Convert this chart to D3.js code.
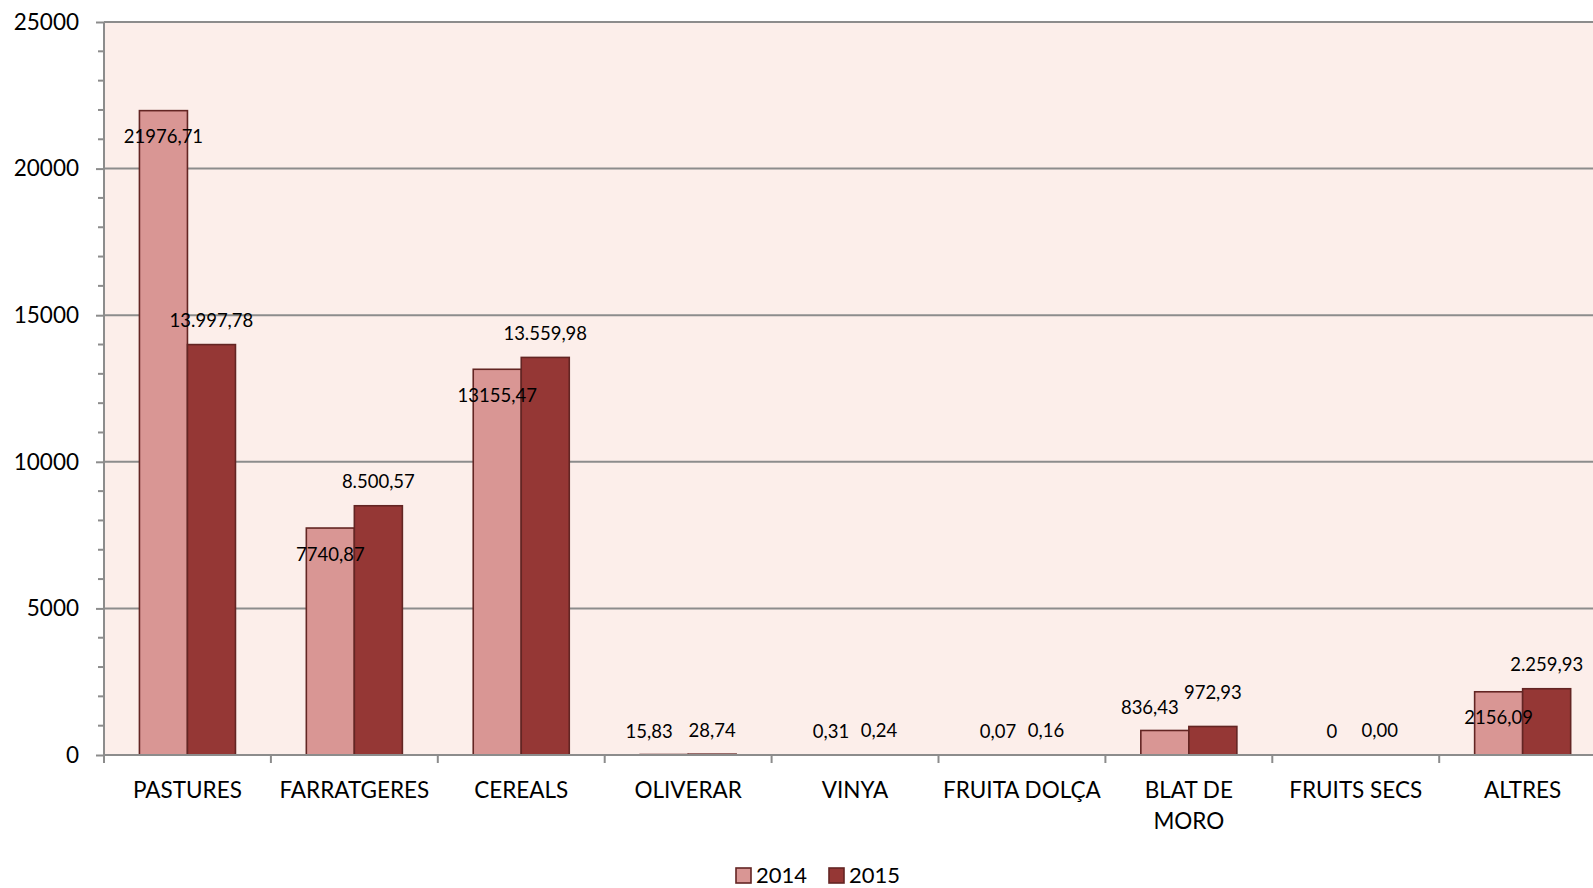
<!DOCTYPE html>
<html><head><meta charset="utf-8">
<script src="https://cdn.jsdelivr.net/npm/d3@7"></script>
<style>html,body{margin:0;padding:0;background:#fff;}svg{display:block;font-family:Lato,"Open Sans",sans-serif;}</style>
</head><body>
<svg id="chart" width="1593" height="888"></svg>
<script>
const categories = ["PASTURES","FARRATGERES","CEREALS","OLIVERAR","VINYA","FRUITA DOLÇA","BLAT DE|MORO","FRUITS SECS","ALTRES"];
const series = ["2014","2015"];
const values2014 = [21976.71, 7740.87, 13155.47, 15.83, 0.31, 0.07, 836.43, 0, 2156.09];
const values2015 = [13997.78, 8500.57, 13559.98, 28.74, 0.24, 0.16, 972.93, 0.00, 2259.93];
const yTicks = [0, 5000, 10000, 15000, 20000, 25000];

const svg = d3.select("#chart");
const M = {left:104, top:22, bottom:755};
const plotRight = 104 + 9*166.9;
const colors = {"2014":"#D99694","2015":"#953735"};
const strokeC = "#632523";

const x0 = d3.scaleBand().domain(categories).range([M.left, plotRight]).paddingInner(0).paddingOuter(0);
const x1 = d3.scaleBand().domain(series).range([0, x0.bandwidth()]).paddingInner(0).paddingOuter(0.738);
const y = d3.scaleLinear().domain([0, 25000]).range([M.bottom, M.top]);

// background
svg.append("rect").attr("x", M.left).attr("y", M.top).attr("width", plotRight - M.left).attr("height", M.bottom - M.top).attr("fill", "#FCEEEA");

// gridlines
svg.append("g").selectAll("line").data(yTicks.filter(d=>d>0)).join("line")
  .attr("x1", M.left).attr("x2", plotRight).attr("y1", d=>y(d)).attr("y2", d=>y(d))
  .attr("stroke", "#8C8C8C").attr("stroke-width", 2);

// y axis
const yAxis = d3.axisLeft(y).tickValues(yTicks).tickSize(8).tickPadding(17).tickFormat(d3.format("d"));
const gy = svg.append("g").attr("transform", `translate(${M.left},0)`).call(yAxis);
gy.select(".domain").remove();
gy.selectAll(".tick line").attr("stroke", "#8C8C8C").attr("stroke-width", 2);
gy.selectAll(".tick text").attr("font-size", 22.5).attr("fill", "#000").attr("font-family", "Lato");
// minor ticks
const minor = d3.range(1000, 25000, 1000).filter(d => d % 5000 !== 0);
svg.append("g").selectAll("line").data(minor).join("line")
  .attr("x1", M.left - 6).attr("x2", M.left).attr("y1", d=>y(d)).attr("y2", d=>y(d))
  .attr("stroke", "#8C8C8C").attr("stroke-width", 2);

// bars
const rows = categories.map((c,i)=>({cat:c, vals:[{s:"2014", v:values2014[i]},{s:"2015", v:values2015[i]}]}));
const g = svg.append("g").selectAll("g").data(rows).join("g").attr("transform", d=>`translate(${x0(d.cat)},0)`);
g.selectAll("rect").data(d=>d.vals).join("rect")
  .attr("x", d=>x1(d.s)).attr("width", x1.bandwidth())
  .attr("y", d=>y(d.v)).attr("height", d=>y(0)-y(d.v))
  .attr("fill", d=>colors[d.s]).attr("stroke", strokeC).attr("stroke-width", 1.6);

// x axis
svg.append("line").attr("x1", M.left).attr("x2", plotRight).attr("y1", M.bottom).attr("y2", M.bottom).attr("stroke", "#8C8C8C").attr("stroke-width", 2);
svg.append("line").attr("x1", M.left).attr("x2", M.left).attr("y1", M.top).attr("y2", M.bottom + 8).attr("stroke", "#8C8C8C").attr("stroke-width", 2);
svg.append("g").selectAll("line").data(categories.slice(1).concat(["_end"])).join("line")
  .attr("x1", (d,i)=>M.left + (i+1)*x0.step()).attr("x2", (d,i)=>M.left + (i+1)*x0.step())
  .attr("y1", M.bottom).attr("y2", M.bottom + 8).attr("stroke", "#8C8C8C").attr("stroke-width", 2);

// category labels
const cl = svg.append("g").selectAll("text").data(categories).join("text")
  .attr("x", d=>x0(d) + x0.bandwidth()/2).attr("y", 790)
  .attr("text-anchor", "middle").attr("font-size", 22.5).attr("fill", "#000");
cl.each(function(d){
  const parts = d.split("|");
  d3.select(this).selectAll("tspan").data(parts).join("tspan")
    .attr("x", x0(d) + x0.bandwidth()/2).attr("dy", (p,i)=> i===0 ? "0.35em" : 31)
    .text(p=>p);
});

// data labels
const loc = d3.formatLocale({decimal:",", thousands:".", grouping:[3], currency:["","€"]});
const f2015 = loc.format(",.2f");
const f2014 = v => v === 0 ? "0" : loc.format(".2f")(v);
const lg = svg.append("g").attr("font-size", 18.5).attr("fill", "#000").attr("text-anchor", "middle");
rows.forEach(r=>{
  const bx = x0(r.cat);
  const a = r.vals[0], b = r.vals[1];
  const ha = y(0) - y(a.v);
  const ta = lg.append("text").attr("x", bx + x1("2014") + x1.bandwidth()/2)
    .attr("y", ha > 40 ? y(a.v) + 26 : y(a.v) - 23).attr("dy", "0.35em").text(f2014(a.v));
  const tb = lg.append("text").attr("x", bx + x1("2015") + x1.bandwidth()/2)
    .attr("y", y(b.v) - 24).attr("dy", "0.35em").text(f2015(b.v));
  if (ha <= 40) {
    const ra = ta.node().getBBox(), rb = tb.node().getBBox();
    const gap = rb.x - (ra.x + ra.width);
    if (gap < 6) ta.attr("x", +ta.attr("x") - 15);
    if (gap < 0) tb.attr("y", +tb.attr("y") - 10);
  }
});

// legend
const legend = svg.append("g");
const items = [{s:"2014", x:736},{s:"2015", x:829}];
items.forEach(it=>{
  legend.append("rect").attr("x", it.x).attr("y", 868).attr("width", 15).attr("height", 15)
    .attr("fill", colors[it.s]).attr("stroke", strokeC).attr("stroke-width", 1.6);
  legend.append("text").attr("x", it.x + 20).attr("y", 875).attr("dy", "0.35em")
    .attr("font-size", 22).attr("fill", "#000").text(it.s);
});
</script>
</body></html>
